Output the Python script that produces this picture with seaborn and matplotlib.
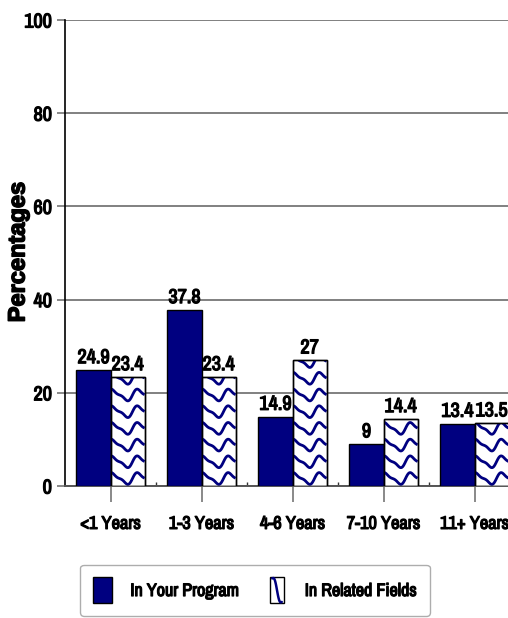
import numpy as np
import pandas as pd
import matplotlib
matplotlib.use("Agg")
import matplotlib.pyplot as plt
from matplotlib import font_manager
import matplotlib.patheffects as pe
import seaborn as sns
from matplotlib.patches import Rectangle, Patch
from matplotlib.lines import Line2D
from matplotlib.legend_handler import HandlerBase

categories = ["<1 Years", "1-3 Years", "4-6 Years", "7-10 Years", "11+ Years"]
series = ["In Your Program", "In Related Fields"]
program = [24.9, 37.8, 14.9, 9, 13.4]
related = [23.4, 23.4, 27, 14.4, 13.5]
yticks = [0, 20, 40, 60, 80, 100]

NAVY = "#000080"
GRID = "#808080"

df = pd.DataFrame({
    "Years": categories * 2,
    "Group": [series[0]] * len(categories) + [series[1]] * len(categories),
    "Pct": program + related,
})

# prefer a narrow face for the labels when one is installed
narrow = sorted({f.name for f in font_manager.fontManager.ttflist
                 if any(k in f.name for k in ("Narrow", "Condensed"))})
LABEL_FAMILY = narrow + ["Liberation Sans", "DejaVu Sans"]
scale = 1.0 if narrow else 0.85
# thicken the narrow face so it reads as heavy type
HEAVY = [pe.withStroke(linewidth=0.9, foreground="black")]

sns.set_theme(style="white")
plt.rcParams["font.family"] = LABEL_FAMILY
plt.rcParams["font.weight"] = "bold"
plt.rcParams["text.color"] = "black"

W, H = 508, 618
fig = plt.figure(figsize=(W / 100, H / 100), dpi=100)
ax = fig.add_axes([65 / W, 1 - 486 / H, 455 / W, 466 / H])

sns.barplot(data=df, x="Years", y="Pct", hue="Group", order=categories,
            hue_order=series, palette=[NAVY, "white"], width=0.75,
            edgecolor="black", linewidth=1.0, saturation=1, legend=False,
            ax=ax, zorder=3)

ax.set_xlim(-0.5, len(categories) - 0.5)
ax.set_ylim(0, 100)
ax.set_yticks(yticks)
ax.set_xlabel("")
ax.set_ylabel("")

# axes styling
ax.yaxis.grid(True, color=GRID, lw=1.4)
ax.set_axisbelow(True)
for s in ("top", "right"):
    ax.spines[s].set_visible(False)
ax.spines["left"].set_color("black")
ax.spines["left"].set_linewidth(1.2)
ax.spines["bottom"].set_color("#555555")
ax.spines["bottom"].set_linewidth(1.4)
ax.tick_params(axis="y", which="major", left=True, length=6, width=1.3,
               color=GRID, labelcolor="black", pad=3.5, labelsize=14.5 * scale)
ax.tick_params(axis="x", which="major", bottom=True, length=11.5, width=1.3,
               color=GRID, labelcolor="black", pad=10, labelsize=13.2 * scale)
ax.set_xticks(np.arange(len(categories)) + 0.5, minor=True)
ax.tick_params(axis="x", which="minor", bottom=True, direction="in",
               length=3, width=1.0, color="#333333")
for lab in ax.get_xticklabels() + ax.get_yticklabels():
    lab.set_fontweight("bold")
    lab.set_path_effects(HEAVY)

# value labels
for cont in ax.containers:
    for t in ax.bar_label(cont, fmt="{:g}", padding=2, fontsize=14.5 * scale,
                          fontweight="bold", color="black", zorder=6):
        t.set_path_effects(HEAVY)

# wavy fill for the second series
bbox = ax.get_position()
sx = bbox.width * W / (ax.get_xlim()[1] - ax.get_xlim()[0])
sy = bbox.height * H / (ax.get_ylim()[1] - ax.get_ylim()[0])
ROW, PER, AMP = 16.7, 26.0, 5.0


def wave_rows(wpx, hpx):
    xs = np.linspace(0, wpx, 100)
    rows = []
    r = ROW * 0.45
    while r < hpx + ROW:
        t = 2 * np.pi * (xs + 4) / PER
        ys = r + AMP * (np.sin(t) + 0.35 * np.sin(2 * t))
        rows.append((xs, ys))
        r += ROW
    return rows


for rect in ax.containers[1].patches:
    x0, w, h = rect.get_x(), rect.get_width(), rect.get_height()
    for xs, ys in wave_rows(w * sx, h * sy):
        ln = Line2D(x0 + xs / sx, ys / sy, color=NAVY, lw=2.0, zorder=4,
                    solid_capstyle="butt")
        ax.add_line(ln)
        ln.set_clip_path(rect)
    ax.add_patch(Rectangle((x0, 0), w, h, fill=False, edgecolor="black",
                           lw=1.0, zorder=5))

ylab = fig.text(18 / W, 1 - 252 / H, "Percentages", rotation=90, ha="center",
                va="center", fontsize=17, fontweight="bold", color="black",
                family=["Liberation Sans", "DejaVu Sans"])
ylab.set_path_effects([pe.withStroke(linewidth=1.1, foreground="black")])


class WaveHandler(HandlerBase):
    def create_artists(self, legend, orig_handle, xdescent, ydescent,
                       width, height, fontsize, trans):
        rw = width * 0.7
        rx = (width - rw) / 2 - xdescent
        ry = -ydescent
        box = Rectangle((rx, ry), rw, height, facecolor="white",
                        edgecolor="black", lw=1.0, transform=trans)
        t = np.linspace(0, 1, 40)
        xs = rx + rw * (0.15 + 0.7 * t)
        ys = ry + height * (0.95 - 0.9 * t) + height * 0.18 * np.sin(2 * np.pi * t)
        ln = Line2D(xs, ys, color=NAVY, lw=1.8, transform=trans)
        return [box, ln]


handles = [Patch(facecolor=NAVY, edgecolor="black", lw=1.0),
           Patch(facecolor="white", edgecolor="black")]
lfs = 13 * scale
leg = fig.legend(handles, series, loc="center", bbox_to_anchor=(0.502, 0.045),
                 ncol=2, fontsize=lfs, frameon=True, fancybox=True,
                 handlelength=14 / lfs, handleheight=24 / lfs,
                 handletextpad=13 / lfs, columnspacing=20 / lfs,
                 borderpad=0.75 * 12 / lfs,
                 handler_map={handles[1]: WaveHandler()})
leg.get_frame().set_edgecolor("#999999")
leg.get_frame().set_linewidth(1.0)
for t in leg.get_texts():
    t.set_fontweight("bold")
    t.set_color("black")
    t.set_path_effects(HEAVY)

fig.savefig("out.png", dpi=100)
